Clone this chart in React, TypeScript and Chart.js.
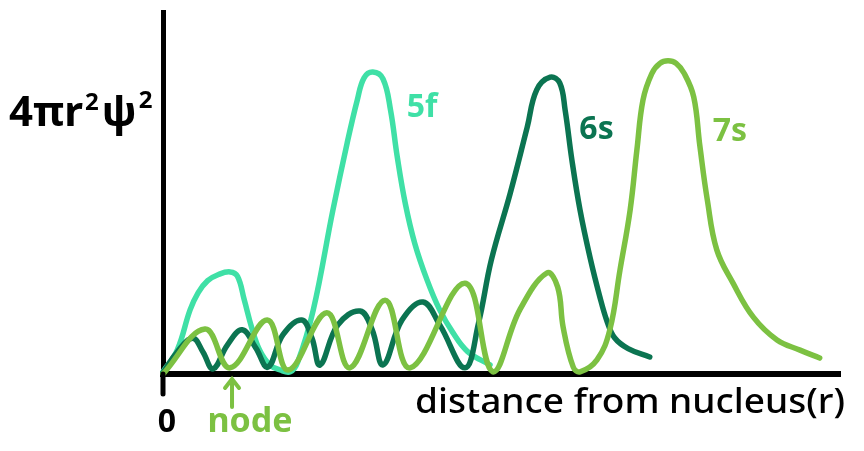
import React, { useEffect, useRef } from "react";
import { Chart, registerables } from "chart.js";

Chart.register(...registerables);

// distance from nucleus (arbitrary units, 0..100) and 4πr²ψ² (arbitrary units, 0..100)
const r5f = [0, 2.1, 4.0, 5.2, 6.6, 8.2, 9.9, 11.0, 12.0, 13.1, 14.3, 15.8, 17.3, 18.8, 19.9, 22.2, 25.1, 27.2, 28.7, 29.7, 31.0, 32.5, 33.6, 34.6, 35.8, 37.2, 39.0, 40.8, 42.8, 45.0, 48.3];
const p5f = [0.6, 6.6, 17.7, 22.5, 25.8, 27.5, 28.2, 27.0, 20.5, 12.8, 6.5, 2.5, 1.1, 0.6, 3.3, 17.7, 45.3, 63.8, 75.7, 81.8, 83.4, 81.5, 73.0, 60.0, 47.0, 36.0, 26.0, 18.0, 11.5, 6.2, 2.5];

const r6s = [0, 2.1, 4.4, 5.9, 7.4, 9.5, 11.7, 13.7, 15.5, 17.7, 20.5, 22.0, 23.2, 25.8, 29.1, 30.9, 32.5, 35.3, 38.4, 40.9, 44.6, 46.6, 48.5, 51.3, 53.8, 55.2, 57.2, 58.6, 59.4, 60.4, 61.6, 63.1, 64.5, 65.6, 66.7, 68.7, 71.9];
const p6s = [0.3, 6.1, 9.9, 6.1, 1.4, 8.0, 12.2, 7.2, 1.9, 10.8, 14.9, 9.9, 2.5, 13.5, 17.4, 12.2, 2.5, 14.9, 19.9, 13.5, 1.7, 14.0, 31.5, 50.0, 68.2, 78.5, 82.0, 80.4, 72.9, 59.1, 45.3, 32.0, 21.5, 14.5, 10.0, 7.0, 4.7];

const r7s = [0, 6.2, 9.9, 15.4, 18.5, 24.2, 27.6, 32.8, 36.5, 44.6, 48.7, 52.7, 56.7, 58.3, 59.1, 60.6, 61.6, 64.1, 66.0, 67.5, 69.0, 70.0, 70.9, 72.2, 73.4, 74.6, 75.8, 77.0, 78.4, 79.3, 80.4, 81.8, 84.2, 87.2, 90.7, 94.1, 97.0];
const p7s = [0, 12.4, 1.7, 14.9, 1.1, 16.9, 1.7, 20.4, 1.7, 25.1, 0.6, 17.7, 27.9, 24.0, 13.0, 1.9, 0.6, 3.9, 12.2, 28.7, 45.3, 61.9, 75.7, 83.0, 85.8, 86.5, 85.8, 83.0, 76.5, 63.0, 48.1, 34.3, 25.1, 15.7, 9.4, 6.6, 4.4];

const seriesNames = ["7s", "6s", "5f"];
const seriesColors = ["#7cc142", "#0b7451", "#3fe0a6"];
const xLabel = "distance from nucleus(r)";
const originLabel = "0";
const nodeLabel = "node";
const nodeAt = 9.9; // node position on r

const toPts = (xs: number[], ys: number[]) => xs.map((x, i) => ({ x, y: ys[i] }));

const HAND = "'Noto Sans', 'DejaVu Sans', sans-serif";

const textPlugin = {
  id: "handLabels",
  afterDraw(chart: any) {
    const { ctx, chartArea, scales } = chart;
    const xs = scales.x;
    const ys = scales.y;
    ctx.save();
    ctx.textBaseline = "alphabetic";
    ctx.textAlign = "left";

    // y-axis extension below origin
    ctx.strokeStyle = "#000";
    ctx.lineWidth = 5;
    ctx.lineCap = "round";
    ctx.beginPath();
    ctx.moveTo(chartArea.left, chartArea.bottom);
    ctx.lineTo(chartArea.left, chartArea.bottom + 20);
    ctx.stroke();

    // y-axis title 4πr²ψ²
    ctx.fillStyle = "#000";
    let x = 9;
    const base = 126;
    ctx.font = `bold 42px ${HAND}`;
    ctx.fillText("4πr", x, base);
    x += ctx.measureText("4πr").width + 2;
    ctx.font = `bold 24px ${HAND}`;
    ctx.fillText("2", x, base - 16);
    x += ctx.measureText("2").width + 3;
    ctx.font = `bold 42px ${HAND}`;
    ctx.fillText("ψ", x, base);
    x += ctx.measureText("ψ").width + 2;
    ctx.font = `bold 24px ${HAND}`;
    ctx.fillText("2", x, base - 18);

    // origin "0"
    ctx.font = `bold 32px ${HAND}`;
    ctx.fillStyle = "#000";
    ctx.textAlign = "center";
    ctx.fillText(originLabel, chartArea.left + 4, chartArea.bottom + 58);

    // x-axis title, fitted to width
    ctx.textAlign = "left";
    ctx.font = `500 34px ${HAND}`;
    const w = ctx.measureText(xLabel).width;
    const target = 430;
    ctx.save();
    ctx.translate(chartArea.right - target + 5, chartArea.bottom + 39);
    ctx.scale(target / w, 1);
    ctx.fillText(xLabel, 0, 0);
    ctx.restore();

    // node arrow + label
    const nx = xs.getPixelForValue(nodeAt) + 2;
    ctx.strokeStyle = seriesColors[0];
    ctx.fillStyle = seriesColors[0];
    ctx.lineWidth = 4;
    ctx.beginPath();
    ctx.moveTo(nx, chartArea.bottom + 33);
    ctx.lineTo(nx, chartArea.bottom + 5);
    ctx.moveTo(nx - 7, chartArea.bottom + 14);
    ctx.lineTo(nx, chartArea.bottom + 5);
    ctx.lineTo(nx + 7, chartArea.bottom + 14);
    ctx.stroke();
    ctx.font = `bold 34px ${HAND}`;
    ctx.textAlign = "center";
    ctx.fillText(nodeLabel, nx + 18, chartArea.bottom + 58);

    // series labels next to the peaks
    const lab = [
      { t: seriesNames[2], c: seriesColors[2], xv: 36.0, yv: 71 },
      { t: seriesNames[1], c: seriesColors[1], xv: 61.5, yv: 65 },
      { t: seriesNames[0], c: seriesColors[0], xv: 81.2, yv: 64.5 },
    ];
    ctx.textAlign = "left";
    ctx.font = `bold 32px ${HAND}`;
    for (const l of lab) {
      ctx.fillStyle = l.c;
      ctx.fillText(l.t, xs.getPixelForValue(l.xv), ys.getPixelForValue(l.yv));
    }
    ctx.restore();
  },
};

export default function App() {
  const ref = useRef<HTMLCanvasElement | null>(null);
  useEffect(() => {
    if (!ref.current) return;
    const data = [toPts(r7s, p7s), toPts(r6s, p6s), toPts(r5f, p5f)];
    const chart = new Chart(ref.current, {
      type: "line",
      data: {
        datasets: data.map((d, i) => ({
          label: seriesNames[i],
          data: d,
          borderColor: seriesColors[i],
          backgroundColor: seriesColors[i],
          borderWidth: 5.5,
          pointRadius: 0,
          tension: 0.4,
          borderCapStyle: "round" as const,
          borderJoinStyle: "round" as const,
          fill: false,
          clip: false as any,
        })),
      },
      options: {
        responsive: false,
        animation: false,
        layout: { padding: { left: 163, right: 24, top: 12, bottom: 77 } },
        plugins: { legend: { display: false }, tooltip: { enabled: false } },
        scales: {
          x: {
            type: "linear",
            min: 0,
            max: 100,
            grid: { display: false },
            ticks: { display: false },
            border: { display: true, color: "#000", width: 6 },
            afterFit: (s: any) => {
              s.height = 0;
            },
          },
          y: {
            type: "linear",
            min: 0,
            max: 100,
            grid: { display: false },
            ticks: { display: false },
            border: { display: true, color: "#000", width: 5 },
            afterFit: (s: any) => {
              s.width = 0;
            },
          },
        },
      },
      plugins: [textPlugin],
    });
    return () => chart.destroy();
  }, []);
  return (
    <canvas
      ref={ref}
      width={864}
      height={451}
      style={{ position: "fixed", left: 0, top: 0, display: "block", background: "#fff" }}
    />
  );
}
